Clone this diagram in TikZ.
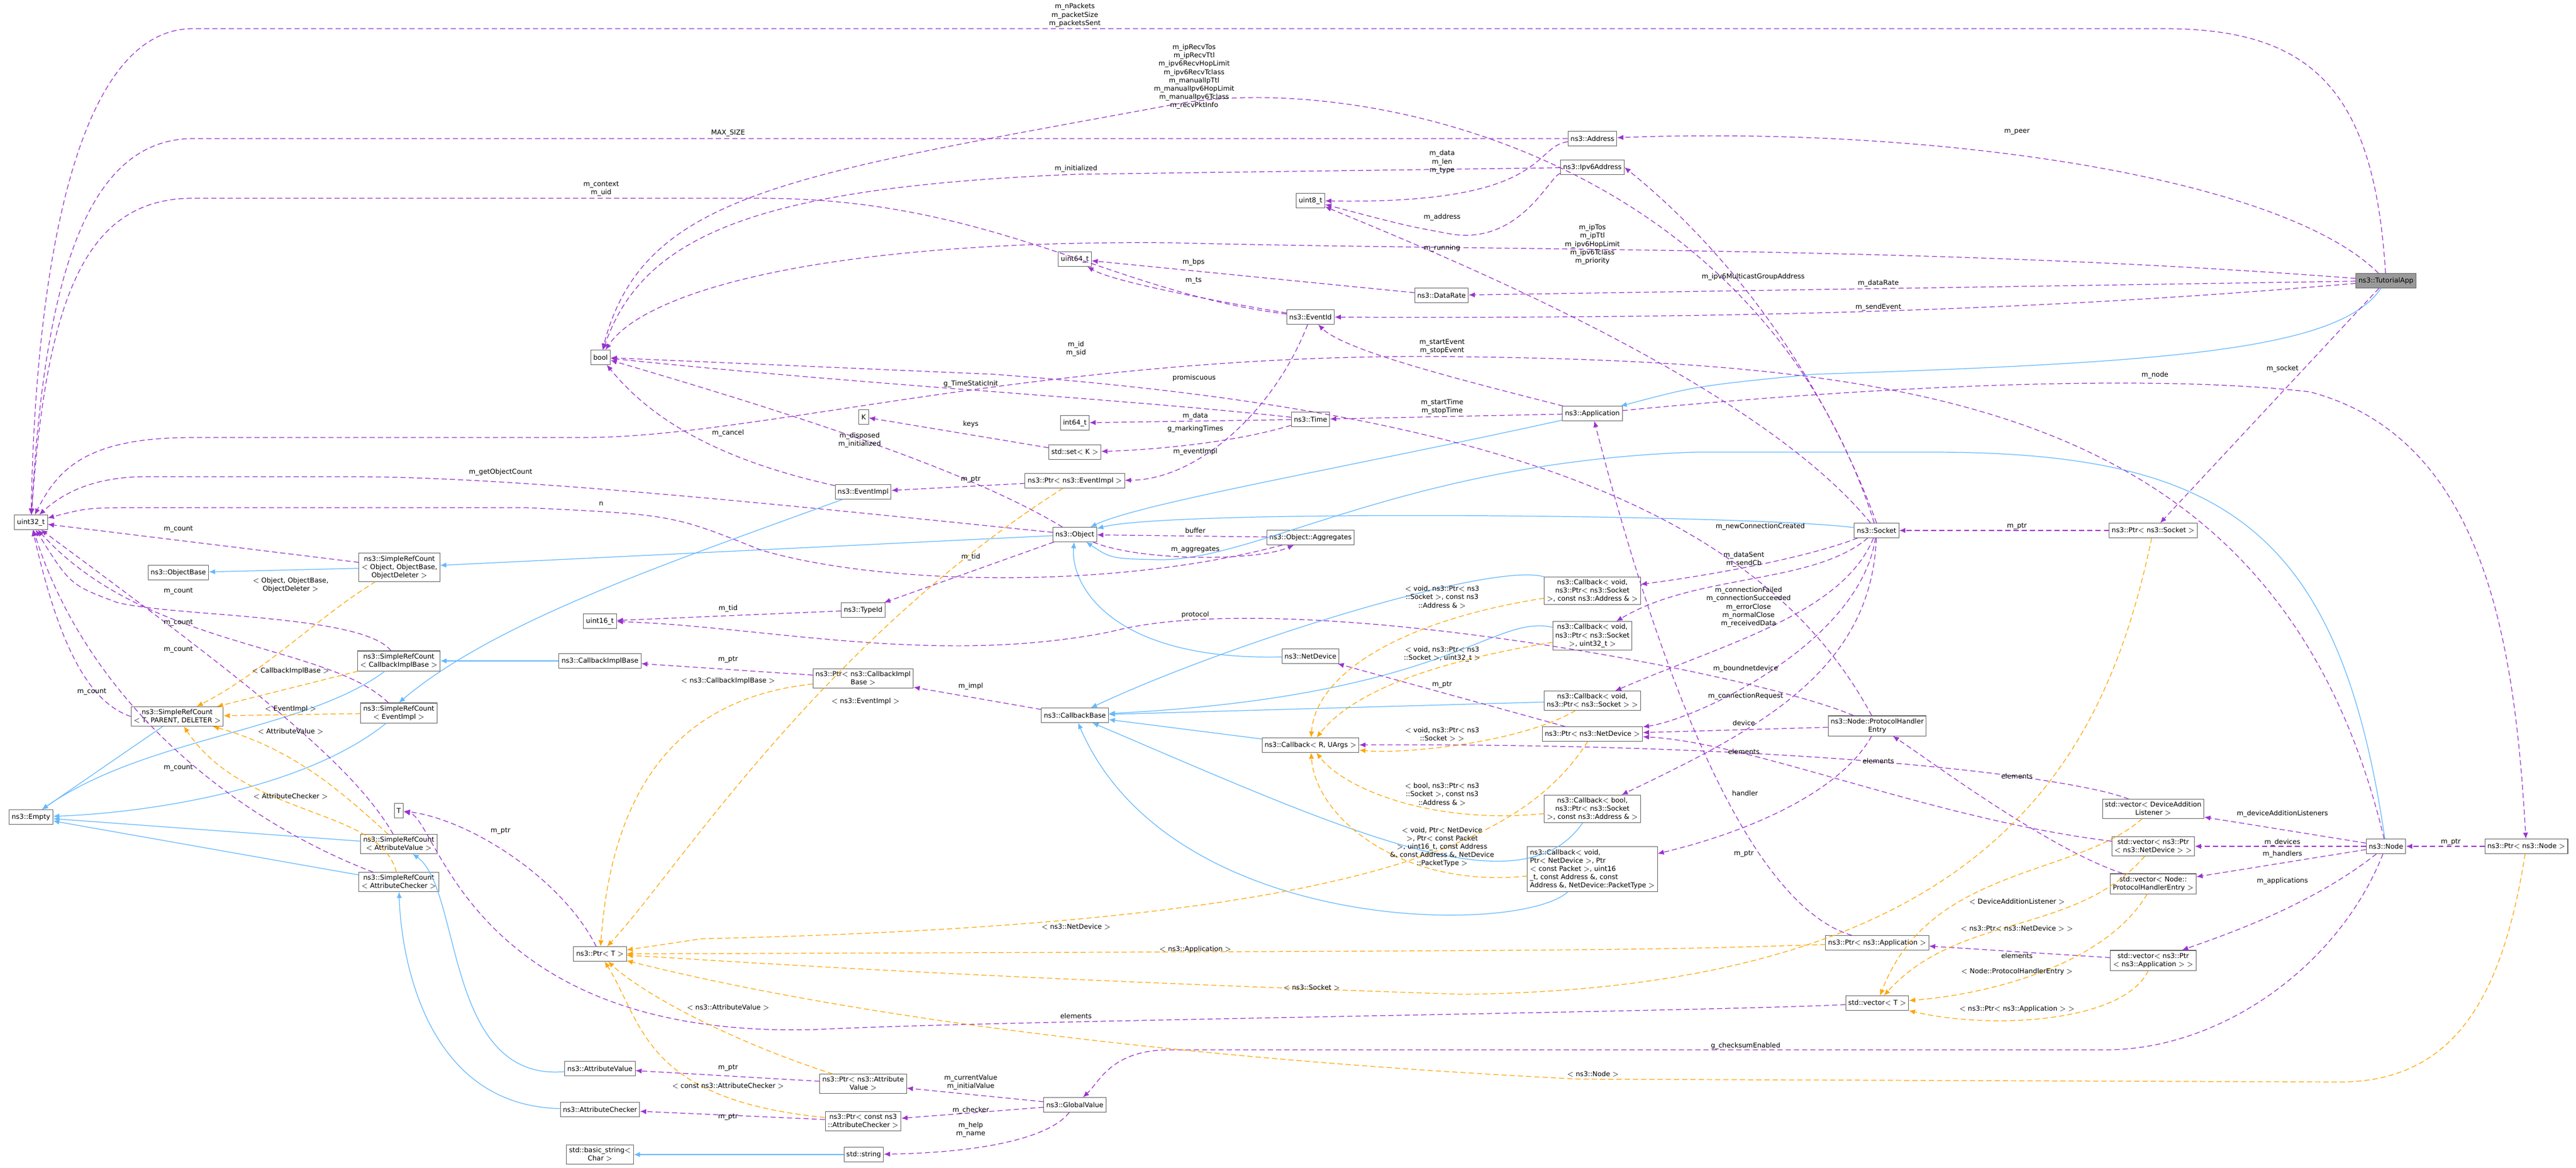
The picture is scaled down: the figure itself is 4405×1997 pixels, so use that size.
\documentclass[tikz,border=0pt]{standalone}
\usepackage{fontspec}
\setmainfont{DejaVu Sans}
\usetikzlibrary{arrows.meta}
\definecolor{usecol}{HTML}{9A32CD}
\definecolor{inhcol}{HTML}{63B8FF}
\definecolor{tplcol}{HTML}{FFA500}
\definecolor{boxcol}{HTML}{666666}

\begin{document}
\begin{tikzpicture}[x=0.02cm, y=-0.02cm,
        font=\fontsize{6.6}{8}\selectfont,
        cls/.style = {draw=boxcol, fill=white, line width=0.6pt, inner sep=2.5pt,
            minimum height=14pt, align=center},
        mainbox/.style = {cls, fill=black!40},
        use/.style = {draw=usecol, dash pattern=on 5pt off 3pt, line width=0.7pt, -{Latex[length=6pt, width=5pt]}},
        inh/.style = {draw=inhcol, line width=0.7pt, -{Latex[length=6pt, width=5pt]}},
        tpl/.style = {draw=tplcol, dash pattern=on 5pt off 3pt, line width=0.7pt, -{Latex[length=6pt, width=5pt]}},
        lbl/.style = {align=center, inner sep=0pt}
    ]
        \useasboundingbox (0,0) rectangle (4405,1997);

        % Classes, top to bottom.
        \node[mainbox] (app) at (4080,480) {ns3::TutorialApp};
        \node[cls] (addr) at (2723,237) {ns3::Address};
        \node[cls] (ipv6) at (2723,286) {ns3::Ipv6Address};
        \node[cls] (u8) at (2241,343) {uint8\_t};
        \node[cls] (u64) at (1838,443) {uint64\_t};
        \node[cls] (rate) at (2465,505) {ns3::DataRate};
        \node[cls] (evid) at (2241,542) {ns3::EventId};
        \node[cls] (bool) at (1027,611) {bool};
        \node[cls] (k) at (1477,713) {K};
        \node[cls] (i64) at (1838,723) {int64\_t};
        \node[cls] (time) at (2241,717) {ns3::Time};
        \node[cls] (setk) at (1838,773) {std::set$<$ K $>$};
        \node[cls] (appl) at (2723,707) {ns3::Application};
        \node[cls] (pevimpl) at (1838,822) {ns3::Ptr$<$ ns3::EventImpl $>$};
        \node[cls] (evimpl) at (1476,841) {ns3::EventImpl};
        \node[cls] (u32) at (53,893) {uint32\_t};
        \node[cls] (obj) at (1838,914) {ns3::Object};
        \node[cls] (aggr) at (2241,919) {ns3::Object::Aggregates};
        \node[cls] (sock) at (3209,907) {ns3::Socket};
        \node[cls] (psock) at (3682,907) {ns3::Ptr$<$ ns3::Socket $>$};
        \node[cls] (srcobj) at (683,970) {ns3::SimpleRefCount\\$<$ Object, ObjectBase,\\ObjectDeleter $>$};
        \node[cls] (objbase) at (305,979) {ns3::ObjectBase};
        \node[cls] (tid) at (1476,1043) {ns3::TypeId};
        \node[cls] (u16) at (1026,1062) {uint16\_t};
        \node[cls] (cbsock) at (2723,1010) {ns3::Callback$<$ void,\\ns3::Ptr$<$ ns3::Socket\\$>$, const ns3::Address \& $>$};
        \node[cls] (cbu32) at (2723,1087) {ns3::Callback$<$ void,\\ns3::Ptr$<$ ns3::Socket\\$>$, uint32\_t $>$};
        \node[cls] (netdev) at (2241,1122) {ns3::NetDevice};
        \node[cls] (srccib) at (682,1130) {ns3::SimpleRefCount\\$<$ CallbackImplBase $>$};
        \node[cls] (cib) at (1026,1130) {ns3::CallbackImplBase};
        \node[cls] (pcib) at (1476,1160) {ns3::Ptr$<$ ns3::CallbackImpl\\Base $>$};
        \node[cls] (cbvoid) at (2723,1198) {ns3::Callback$<$ void,\\ns3::Ptr$<$ ns3::Socket $>$ $>$};
        \node[cls] (srcev) at (682,1219) {ns3::SimpleRefCount\\$<$ EventImpl $>$};
        \node[cls] (srctpd) at (303,1225) {ns3::SimpleRefCount\\$<$ T, PARENT, DELETER $>$};
        \node[cls] (cbbase) at (1838,1223) {ns3::CallbackBase};
        \node[cls] (phe) at (3210,1241) {ns3::Node::ProtocolHandler\\Entry};
        \node[cls] (pnetdev) at (2723,1255) {ns3::Ptr$<$ ns3::NetDevice $>$};
        \node[cls] (cbr) at (2241,1274) {ns3::Callback$<$ R, UArgs $>$};
        \node[cls] (cbbool) at (2723,1383) {ns3::Callback$<$ bool,\\ns3::Ptr$<$ ns3::Socket\\$>$, const ns3::Address \& $>$};
        \node[cls] (vdal) at (3682,1383) {std::vector$<$ DeviceAddition\\Listener $>$};
        \node[cls] (t) at (682,1386) {T};
        \node[cls] (empty) at (53,1397) {ns3::Empty};
        \node[cls] (srcav) at (682,1443) {ns3::SimpleRefCount\\$<$ AttributeValue $>$};
        \node[cls] (vnd) at (3682,1447) {std::vector$<$ ns3::Ptr\\$<$ ns3::NetDevice $>$ $>$};
        \node[cls] (node) at (4080,1447) {ns3::Node};
        \node[cls] (pnode) at (4320,1447) {ns3::Ptr$<$ ns3::Node $>$};
        \node[cls, align=left] (cbnd) at (2723,1486) {ns3::Callback$<$ void,\\ Ptr$<$ NetDevice $>$, Ptr\\ $<$ const Packet $>$, uint16\\ \_t, const Address \&, const\\ Address \&, NetDevice::PacketType $>$};
        \node[cls] (srcac) at (682,1508) {ns3::SimpleRefCount\\$<$ AttributeChecker $>$};
        \node[cls] (vphe) at (3682,1511) {std::vector$<$ Node::\\ProtocolHandlerEntry $>$};
        \node[cls] (papp) at (3210,1612) {ns3::Ptr$<$ ns3::Application $>$};
        \node[cls] (ptrt) at (1026,1631) {ns3::Ptr$<$ T $>$};
        \node[cls] (vapp) at (3682,1642) {std::vector$<$ ns3::Ptr\\$<$ ns3::Application $>$ $>$};
        \node[cls] (vect) at (3210,1715) {std::vector$<$ T $>$};
        \node[cls] (av) at (1026,1827) {ns3::AttributeValue};
        \node[cls] (pav) at (1476,1853) {ns3::Ptr$<$ ns3::Attribute\\Value $>$};
        \node[cls] (gv) at (1838,1889) {ns3::GlobalValue};
        \node[cls] (ac) at (1026,1897) {ns3::AttributeChecker};
        \node[cls] (pac) at (1476,1917) {ns3::Ptr$<$ const ns3\\::AttributeChecker $>$};
        \node[cls] (bstr) at (1026,1974) {std::basic\_string$<$\\Char $>$};
        \node[cls] (str) at (1477,1974) {std::string};

        % Inheritance.
        \draw[inh] (app) .. controls (4000,600) and (3700,620) .. (3100,640) .. controls (2900,660) .. (appl);
        \draw[inh] (appl) .. controls (2300,800) and (1950,860) .. (obj);
        \draw[inh] (sock) .. controls (3000,880) and (2000,870) .. (obj);
        \draw[inh] (node) .. controls (4000,900) and (3800,773) .. (3300,773) -- (2900,773) .. controls (2400,790) and (2150,960) .. (1980,957) .. controls (1900,955) .. (obj);
        \draw[inh] (netdev) .. controls (1900,1130) and (1830,1000) .. (obj);
        \draw[inh] (evimpl) .. controls (1150,960) and (850,1060) .. (srcev.north);
        \draw[inh] (obj) -- (srcobj);
        \draw[inh] (srcobj) -- (objbase);
        \draw[inh] (srccib) .. controls (520,1250) and (250,1260) .. (empty);
        \draw[inh] (srcev) .. controls (520,1350) and (250,1390) .. (empty);
        \draw[inh] (srctpd) -- (empty);
        \draw[inh] (srcav) -- (empty);
        \draw[inh] (srcac) -- (empty);
        \draw[inh] (cib) -- (srccib);
        \draw[inh] (av) .. controls (760,1850) and (790,1520) .. (srcav);
        \draw[inh] (ac) .. controls (720,1890) and (685,1620) .. (srcac);
        \draw[inh] (str) -- (bstr);
        \draw[inh] (cbsock) .. controls (2550,960) and (2100,1100) .. (cbbase);
        \draw[inh] (cbu32) .. controls (2550,1050) and (2480,1190) .. (cbbase);
        \draw[inh] (cbvoid) -- (cbbase);
        \draw[inh] (cbr) -- (cbbase);
        \draw[inh] (cbbool) .. controls (2600,1560) and (2300,1420) .. (cbbase);
        \draw[inh] (cbnd) .. controls (2600,1600) and (2000,1600) .. (cbbase);

        % Members.
        \draw[use] (app) .. controls (4060,150) and (3950,49) .. (3700,49) -- (330,49) .. controls (120,49) and (60,500) .. (u32);
        \draw[use] (addr) -- (330,237) .. controls (140,237) and (75,500) .. (u32);
        \draw[use] (app) .. controls (3900,300) and (3300,215) .. (addr);
        \draw[use] (sock) .. controls (3000,250) and (2300,120) .. (2000,180) .. controls (1350,300) and (1100,330) .. (bool);
        \draw[use] (ipv6) -- (1840,298) .. controls (1300,320) and (1100,400) .. (bool);
        \draw[use] (evid) .. controls (1900,500) and (1700,339) .. (1300,339) -- (330,339) .. controls (150,339) and (80,500) .. (u32);
        \draw[use] (addr) .. controls (2620,250) and (2650,350) .. (u8);
        \draw[use] (ipv6) .. controls (2650,300) and (2600,420) .. (2480,400) .. controls (2400,385) .. (u8);
        \draw[use] (app) .. controls (3300,420) and (2600,430) .. (2000,415) .. controls (1400,410) and (1100,500) .. (bool);
        \draw[use] (sock) .. controls (3000,650) and (2450,430) .. (u8);
        \draw[use] (rate) -- (u64);
        \draw[use] (evid) .. controls (2050,510) and (1900,480) .. (u64);
        \draw[use] (app) -- (rate);
        \draw[use] (app) .. controls (3500,530) and (3000,545) .. (evid);
        \draw[use] (sock.north) .. controls (3100,600) and (2920,400) .. (ipv6.east);
        \draw[use] (appl) .. controls (2500,650) and (2300,600) .. (evid);
        \draw[use] (obj) .. controls (1650,800) and (1330,700) .. (bool);
        \draw[use] (evimpl) .. controls (1200,780) and (1100,700) .. (bool);
        \draw[use] (node) .. controls (3900,700) and (3300,620) .. (2500,610) .. controls (1800,600) and (1300,748) .. (1000,748) -- (330,748) .. controls (150,748) and (100,800) .. (u32);
        \draw[use] (phe) .. controls (3000,850) and (2500,700) .. (1700,640) -- (bool);
        \draw[use] (time) .. controls (1900,680) and (1500,660) .. (bool);
        \draw[use] (time) -- (i64);
        \draw[use] (time) .. controls (2100,760) and (1950,770) .. (setk);
        \draw[use] (setk) -- (k);
        \draw[use] (appl) -- (time);
        \draw[use] (evid) .. controls (2180,700) and (2050,820) .. (pevimpl);
        \draw[use] (pevimpl) -- (evimpl);
        \draw[use] (obj) .. controls (1400,870) and (900,815) .. (600,815) -- (250,815) .. controls (150,815) and (100,850) .. (u32);
        \draw[use] (aggr) .. controls (1900,1010) and (1500,1000) .. (1300,940) .. controls (1150,880) .. (900,868) -- (250,868) .. controls (150,868) .. (u32);
        \draw[use] (aggr) -- (obj);
        \draw[use] (obj) .. controls (1950,960) and (2150,960) .. (aggr);
        \draw[use] (obj) -- (tid);
        \draw[use] (tid) -- (u16);
        \draw[use] (phe) .. controls (3000,1150) and (2200,1000) .. (1900,1080) .. controls (1600,1140) and (1300,1070) .. (u16);
        \draw[use] (srcobj) -- (u32);
        \draw[use] (srccib) .. controls (620,1050) and (300,1055) .. (200,1030) .. controls (120,1000) .. (u32);
        \draw[use] (srcev) .. controls (560,1100) and (250,1110) .. (u32);
        \draw[use] (srctpd.west) .. controls (150,1200) and (100,1100) .. (u32);
        \draw[use] (srcav) .. controls (600,1300) and (400,1150) .. (u32);
        \draw[use] (srcac) .. controls (400,1400) and (150,1200) .. (u32);
        \draw[use] (pcib) -- (cib);
        \draw[use] (cbbase) -- (pcib);
        \draw[use] (pnetdev) -- (netdev);
        \draw[use] (sock) .. controls (3100,950) and (2950,980) .. (cbsock);
        \draw[use] (sock) .. controls (3100,1000) and (2900,980) .. (cbu32);
        \draw[use] (sock) .. controls (3150,1050) and (2950,1100) .. (cbvoid);
        \draw[use] (sock) .. controls (3180,1100) and (2900,1230) .. (pnetdev);
        \draw[use] (sock) .. controls (3200,1150) and (3000,1250) .. (cbbool);
        \draw[use] (phe) -- (pnetdev);
        \draw[use] (vnd) .. controls (3300,1400) and (3000,1270) .. (pnetdev);
        \draw[use] (phe) .. controls (3150,1350) and (3000,1420) .. (cbnd);
        \draw[use] (papp) .. controls (3000,1550) and (2850,1200) .. (appl);
        \draw[use] (psock) -- (sock);
        \draw[use] (app) -- (psock);
        \draw[use] (appl) .. controls (3000,680) and (3600,630) .. (3950,670) .. controls (4250,750) and (4300,1100) .. (pnode);
        \draw[use] (vdal) .. controls (3550,1330) and (3100,1270) .. (cbr);
        \draw[use] (vphe) .. controls (3500,1450) and (3300,1300) .. (phe);
        \draw[use] (vapp) -- (papp);
        \draw[use] (node) -- (vdal);
        \draw[use] (node) -- (vnd);
        \draw[use] (node) -- (vphe);
        \draw[use] (node) .. controls (3950,1550) and (3800,1600) .. (vapp);
        \draw[use] (pnode) -- (node);
        \draw[use] (node) .. controls (4000,1650) and (3800,1795) .. (3600,1795) -- (2000,1795) .. controls (1900,1795) and (1880,1850) .. (gv);
        \draw[use] (vect) .. controls (2900,1730) and (1700,1745) .. (1400,1760) .. controls (800,1780) and (750,1400) .. (t);
        \draw[use] (ptrt) .. controls (960,1500) and (800,1400) .. (t);
        \draw[use] (pav) -- (av);
        \draw[use] (pac) -- (ac);
        \draw[use] (gv) -- (pav);
        \draw[use] (gv) -- (pac);
        \draw[use] (gv) .. controls (1800,1940) and (1700,1970) .. (str);

        % Template instances.
        \draw[tpl] (srcobj) .. controls (550,1050) and (450,1150) .. (srctpd);
        \draw[tpl] (srccib) -- (srctpd);
        \draw[tpl] (srcev) -- (srctpd);
        \draw[tpl] (srcav) .. controls (580,1350) and (500,1280) .. (srctpd);
        \draw[tpl] (srcac) .. controls (650,1380) and (420,1400) .. (srctpd);
        \draw[tpl] (pcib) .. controls (1200,1190) and (1050,1300) .. (ptrt);
        \draw[tpl] (pevimpl) .. controls (1400,1100) and (1150,1500) .. (ptrt);
        \draw[tpl] (pav) .. controls (1250,1780) and (1100,1700) .. (ptrt);
        \draw[tpl] (pac) .. controls (1100,1880) and (1100,1750) .. (ptrt);
        \draw[tpl] (pnetdev) .. controls (2600,1450) and (2300,1580) .. (1200,1605) -- (ptrt);
        \draw[tpl] (papp) .. controls (2800,1625) .. (ptrt);
        \draw[tpl] (psock) .. controls (3600,1300) and (3400,1690) .. (2500,1700) .. controls (1600,1670) and (1200,1640) .. (ptrt);
        \draw[tpl] (pnode) .. controls (4280,1700) and (4200,1850) .. (4000,1850) -- (2700,1845) .. controls (1800,1800) and (1300,1700) .. (ptrt);
        \draw[tpl] (cbsock) .. controls (2400,1060) and (2250,1150) .. (cbr);
        \draw[tpl] (cbu32) .. controls (2400,1140) and (2300,1200) .. (cbr);
        \draw[tpl] (cbvoid) .. controls (2600,1270) and (2400,1290) .. (cbr);
        \draw[tpl] (cbbool) .. controls (2450,1410) and (2300,1350) .. (cbr);
        \draw[tpl] (cbnd) .. controls (2400,1520) and (2250,1400) .. (cbr);
        \draw[tpl] (vdal) .. controls (3550,1500) and (3300,1480) .. (vect);
        \draw[tpl] (vnd) .. controls (3550,1600) and (3350,1560) .. (vect);
        \draw[tpl] (vphe) .. controls (3600,1650) and (3400,1700) .. (vect);
        \draw[tpl] (vapp) .. controls (3630,1750) and (3400,1760) .. (vect);

        % Labels of the members.
        \node[lbl] (l1) at (1838,26) {m\_nPackets\\m\_packetSize\\m\_packetsSent};
        \node[lbl] (l2) at (1245,228) {MAX\_SIZE};
        \node[lbl] (l3) at (3449,226) {m\_peer};
        \node[lbl] (l4) at (2042,131) {m\_ipRecvTos\\m\_ipRecvTtl\\m\_ipv6RecvHopLimit\\m\_ipv6RecvTclass\\m\_manualIpTtl\\m\_manualIpv6HopLimit\\m\_manualIpv6Tclass\\m\_recvPktInfo};
        \node[lbl] (l5) at (1840,288) {m\_initialized};
        \node[lbl] (l6) at (1028,323) {m\_context\\m\_uid};
        \node[lbl] (l7) at (2466,277) {m\_data\\m\_len\\m\_type};
        \node[lbl] (l8) at (2466,371) {m\_address};
        \node[lbl] (l9) at (2466,424) {m\_running};
        \node[lbl] (l10) at (2723,418) {m\_ipTos\\m\_ipTtl\\m\_ipv6HopLimit\\m\_ipv6Tclass\\m\_priority};
        \node[lbl] (l11) at (2041,448) {m\_bps};
        \node[lbl] (l12) at (2041,480) {m\_ts};
        \node[lbl] (l13) at (2998,473) {m\_ipv6MulticastGroupAddress};
        \node[lbl] (l14) at (3212,484) {m\_dataRate};
        \node[lbl] (l15) at (3212,525) {m\_sendEvent};
        \node[lbl] (l16) at (2466,593) {m\_startEvent\\m\_stopEvent};
        \node[lbl] (l17) at (1840,596) {m\_id\\m\_sid};
        \node[lbl] (l18) at (2042,646) {promiscuous};
        \node[lbl] (l19) at (1660,656) {g\_TimeStaticInit};
        \node[lbl] (l20) at (1470,752) {m\_disposed\\m\_initialized};
        \node[lbl] (l21) at (1245,740) {m\_cancel};
        \node[lbl] (l22) at (1660,725) {keys};
        \node[lbl] (l23) at (2044,711) {m\_data};
        \node[lbl] (l24) at (2044,733) {g\_markingTimes};
        \node[lbl] (l25) at (2466,695) {m\_startTime\\m\_stopTime};
        \node[lbl] (l26) at (2044,772) {m\_eventImpl};
        \node[lbl] (l27) at (1660,820) {m\_ptr};
        \node[lbl] (l28) at (856,807) {m\_getObjectCount};
        \node[lbl] (l29) at (1028,861) {n};
        \node[lbl] (l30) at (305,905) {m\_count};
        \node[lbl] (l31) at (2044,907) {buffer};
        \node[lbl] (l32) at (2044,940) {m\_aggregates};
        \node[lbl] (l33) at (1660,952) {m\_tid};
        \node[lbl] (l34) at (1245,1040) {m\_tid};
        \node[lbl] (l35) at (2044,1051) {protocol};
        \node[lbl] (l36) at (305,1011) {m\_count};
        \node[lbl] (l37) at (305,1065) {m\_count};
        \node[lbl] (l38) at (305,1111) {m\_count};
        \node[lbl] (l39) at (157,1183) {m\_count};
        \node[lbl] (l40) at (305,1313) {m\_count};
        \node[lbl] (l41) at (1245,1128) {m\_ptr};
        \node[lbl] (l42) at (1660,1173) {m\_impl};
        \node[lbl] (l43) at (2466,1171) {m\_ptr};
        \node[lbl] (l44) at (3010,900) {m\_newConnectionCreated};
        \node[lbl] (l45) at (2982,956) {m\_dataSent\\m\_sendCb};
        \node[lbl] (l46) at (2990,1038) {m\_connectionFailed\\m\_connectionSucceeded\\m\_errorClose\\m\_normalClose\\m\_receivedData};
        \node[lbl] (l47) at (2985,1143) {m\_boundnetdevice};
        \node[lbl] (l48) at (2985,1190) {m\_connectionRequest};
        \node[lbl] (l49) at (2982,1236) {device};
        \node[lbl] (l50) at (2982,1285) {elements};
        \node[lbl] (l51) at (3212,1301) {elements};
        \node[lbl] (l52) at (2984,1356) {handler};
        \node[lbl] (l53) at (2982,1460) {m\_ptr};
        \node[lbl] (l54) at (3449,1327) {elements};
        \node[lbl] (l55) at (3903,1391) {m\_deviceAdditionListeners};
        \node[lbl] (l56) at (3903,1440) {m\_devices};
        \node[lbl] (l57) at (3903,1460) {m\_handlers};
        \node[lbl] (l58) at (3903,1506) {m\_applications};
        \node[lbl] (l59) at (4191,1440) {m\_ptr};
        \node[lbl] (l60) at (3903,630) {m\_socket};
        \node[lbl] (l61) at (3685,641) {m\_node};
        \node[lbl] (l62) at (3449,900) {m\_ptr};
        \node[lbl] (l63) at (3449,1634) {elements};
        \node[lbl] (l64) at (2985,1788) {g\_checksumEnabled};
        \node[lbl] (l65) at (1840,1737) {elements};
        \node[lbl] (l66) at (856,1421) {m\_ptr};
        \node[lbl] (l67) at (1245,1826) {m\_ptr};
        \node[lbl] (l68) at (1245,1910) {m\_ptr};
        \node[lbl] (l69) at (1660,1850) {m\_currentValue\\m\_initialValue};
        \node[lbl] (l70) at (1660,1898) {m\_checker};
        \node[lbl] (l71) at (1660,1931) {m\_help\\m\_name};

        % Labels of the template arguments.
        \node[lbl] (t1) at (497,1000) {$<$ Object, ObjectBase,\\ObjectDeleter $>$};
        \node[lbl] (t2) at (497,1147) {$<$ CallbackImplBase $>$};
        \node[lbl] (t3) at (497,1212) {$<$ EventImpl $>$};
        \node[lbl] (t4) at (497,1251) {$<$ AttributeValue $>$};
        \node[lbl] (t5) at (497,1362) {$<$ AttributeChecker $>$};
        \node[lbl] (t6) at (1245,1164) {$<$ ns3::CallbackImplBase $>$};
        \node[lbl] (t7) at (1480,1199) {$<$ ns3::EventImpl $>$};
        \node[lbl] (t8) at (1245,1723) {$<$ ns3::AttributeValue $>$};
        \node[lbl] (t9) at (1245,1857) {$<$ const ns3::AttributeChecker $>$};
        \node[lbl] (t10) at (1840,1585) {$<$ ns3::NetDevice $>$};
        \node[lbl] (t11) at (2044,1623) {$<$ ns3::Application $>$};
        \node[lbl] (t12) at (2243,1689) {$<$ ns3::Socket $>$};
        \node[lbl] (t13) at (2724,1837) {$<$ ns3::Node $>$};
        \node[lbl] (t14) at (2466,1021) {$<$ void, ns3::Ptr$<$ ns3\\::Socket $>$, const ns3\\::Address \& $>$};
        \node[lbl] (t15) at (2466,1118) {$<$ void, ns3::Ptr$<$ ns3\\::Socket $>$, uint32\_t $>$};
        \node[lbl] (t16) at (2466,1256) {$<$ void, ns3::Ptr$<$ ns3\\::Socket $>$ $>$};
        \node[lbl] (t17) at (2466,1358) {$<$ bool, ns3::Ptr$<$ ns3\\::Socket $>$, const ns3\\::Address \& $>$};
        \node[lbl] (t18) at (2466,1448) {$<$ void, Ptr$<$ NetDevice\\$>$, Ptr$<$ const Packet\\$>$, uint16\_t, const Address\\\&, const Address \&, NetDevice\\::PacketType $>$};
        \node[lbl] (t19) at (3449,1542) {$<$ DeviceAdditionListener $>$};
        \node[lbl] (t20) at (3449,1588) {$<$ ns3::Ptr$<$ ns3::NetDevice $>$ $>$};
        \node[lbl] (t21) at (3449,1661) {$<$ Node::ProtocolHandlerEntry $>$};
        \node[lbl] (t22) at (3449,1725) {$<$ ns3::Ptr$<$ ns3::Application $>$ $>$};
    \end{tikzpicture}
\end{document}
